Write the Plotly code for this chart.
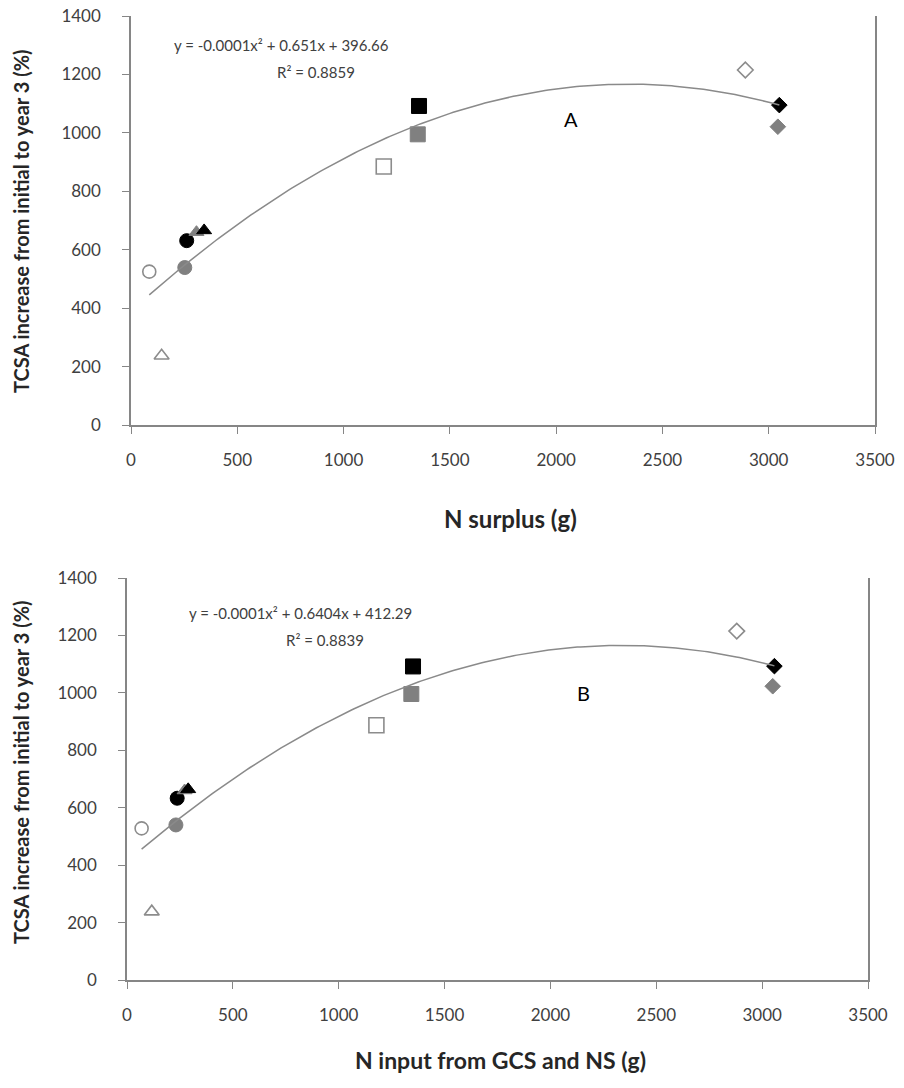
import numpy as np
import plotly.graph_objects as go

# ---------------- data ----------------
# Panel A: N surplus (g) vs TCSA increase (%)
a_open_circle_x = [86];   a_open_circle_y = [525]
a_grey_circle_x = [253];  a_grey_circle_y = [539]
a_black_circle_x = [262]; a_black_circle_y = [631]
a_open_tri_x = [144];     a_open_tri_y = [237]
a_grey_tri_x = [308];     a_grey_tri_y = [660]
a_black_tri_x = [344];    a_black_tri_y = [666]
a_open_sq_x = [1189];     a_open_sq_y = [885]
a_grey_sq_x = [1349];     a_grey_sq_y = [995]
a_black_sq_x = [1355];    a_black_sq_y = [1092]
a_open_dia_x = [2890];    a_open_dia_y = [1215]
a_grey_dia_x = [3043];    a_grey_dia_y = [1021]
a_black_dia_x = [3050];   a_black_dia_y = [1095]

# Panel B: N input from GCS and NS (g) vs TCSA increase (%)
b_open_circle_x = [69];   b_open_circle_y = [528]
b_grey_circle_x = [231];  b_grey_circle_y = [540]
b_black_circle_x = [237]; b_black_circle_y = [633]
b_open_tri_x = [117];     b_open_tri_y = [238]
b_grey_tri_x = [272];     b_grey_tri_y = [660]
b_black_tri_x = [289];    b_black_tri_y = [664]
b_open_sq_x = [1178];     b_open_sq_y = [887]
b_grey_sq_x = [1343];     b_grey_sq_y = [996]
b_black_sq_x = [1351];    b_black_sq_y = [1092]
b_open_dia_x = [2880];    b_open_dia_y = [1215]
b_grey_dia_x = [3050];    b_grey_dia_y = [1023]
b_black_dia_x = [3058];   b_black_dia_y = [1093]

eq_a = "y = -0.0001x² + 0.651x + 396.66"
r2_a = "R² = 0.8859"
eq_b = "y = -0.0001x² + 0.6404x + 412.29"
r2_b = "R² = 0.8839"
title_a = "N surplus (g)"
title_b = "N input from GCS and NS (g)"
y_title = "TCSA increase from initial to year 3 (%)"

x_ticks = [0, 500, 1000, 1500, 2000, 2500, 3000, 3500]
y_ticks = [0, 200, 400, 600, 800, 1000, 1200, 1400]

FONT = "Lato, 'Open Sans', sans-serif"
BLACK = "#000000"
GREY = "#808080"
OPEN_LINE = "#8c8c8c"
AXIS = "#868686"

# figure / margin geometry (pixels)
FW, FH = 904, 1088
L, R, T, B = 127, 29, 16, 108
W, H = FW - L - R, FH - T - B

def px2paper(px, py):
    return (px - L) / W, 1 - (py - T) / H

fig = go.Figure()

def add_panel(fig, xa, ya, series):
    allx, ally = [], []
    for (xs, ys, symbol, fill, size) in series:
        allx += xs; ally += ys
        line = dict(color=OPEN_LINE, width=1.6) if fill == "white" else dict(color=fill, width=1)
        fig.add_trace(go.Scatter(
            x=xs, y=ys, mode="markers", xaxis=xa, yaxis=ya, showlegend=False,
            marker=dict(symbol=symbol, color=fill, size=size, line=line)))
    # quadratic trendline (least squares fit of the points)
    c = np.polyfit(allx, ally, 2)
    xs = np.linspace(min(allx), max(allx), 200)
    fig.add_trace(go.Scatter(x=xs, y=np.polyval(c, xs), mode="lines",
                             xaxis=xa, yaxis=ya, showlegend=False,
                             line=dict(color="#8a8a8a", width=1.5)))

def make_series(p):
    g = globals()
    spec = [("open_sq", "square", "white", 15), ("grey_sq", "square", GREY, 15),
            ("black_sq", "square", BLACK, 15),
            ("open_dia", "diamond", "white", 12), ("grey_dia", "diamond", GREY, 12),
            ("black_dia", "diamond", BLACK, 12),
            ("open_circle", "circle", "white", 13), ("grey_circle", "circle", GREY, 14),
            ("black_circle", "circle", BLACK, 14),
            ("open_tri", "triangle-up", "white", 13), ("grey_tri", "triangle-up", GREY, 13),
            ("black_tri", "triangle-up", BLACK, 13)]
    return [(g[f"{p}_{n}_x"], g[f"{p}_{n}_y"], s, c, z) for n, s, c, z in spec]

add_panel(fig, "x", "y", make_series("a"))
add_panel(fig, "x2", "y2", make_series("b"))

def xaxis(domain, anchor):
    return dict(domain=domain, anchor=anchor, range=[0, 3500], tickvals=x_ticks,
                showgrid=False, zeroline=False, showline=True, linecolor=AXIS, linewidth=1.5,
                ticks="outside", ticklen=7, tickcolor=AXIS, tickwidth=1.3,
                ticklabelstandoff=12,
                tickfont=dict(family=FONT, size=17, color="#404040"))

def yaxis(domain, anchor):
    return dict(domain=domain, anchor=anchor, range=[0, 1400], tickvals=y_ticks,
                showgrid=False, zeroline=False, showline=True, linecolor=AXIS, linewidth=1.5,
                mirror=True, ticks="outside", ticklen=7, tickcolor=AXIS, tickwidth=1.3,
                ticklabelstandoff=18,
                tickfont=dict(family=FONT, size=17, color="#404040"))

def ann(text, px, py, size, bold=False, angle=0, color="#404040", anchor="center"):
    x, y = px2paper(px, py)
    f = dict(family=FONT, size=size, color=color)
    if bold:
        f["weight"] = "bold"
    return dict(text=text, x=x, y=y, xref="paper", yref="paper", showarrow=False,
                xanchor=anchor, yanchor="middle", textangle=angle, font=f)

annotations = [
    ann(eq_a, 172, 45, 15, anchor="left"),
    ann(r2_a, 357, 72, 15, anchor="right"),
    ann(eq_b, 300, 613, 15),
    ann(r2_b, 366, 640, 15, anchor="right"),
    ann(title_a, 510, 518, 24, bold=True, color="#262626"),
    ann(title_b, 500, 1060, 23, bold=True, color="#262626"),
    ann(y_title, 21, 221, 20, bold=True, angle=-90, color="#262626"),
    ann(y_title, 21, 772, 20, bold=True, angle=-90, color="#262626"),
    dict(text="A", x=2072, y=1046, xref="x", yref="y", showarrow=False,
         font=dict(family=FONT, size=20, color="#000000")),
    dict(text="B", x=2155, y=1000, xref="x2", yref="y2", showarrow=False,
         font=dict(family=FONT, size=20, color="#000000")),
]

top_x0, _ = px2paper(131, 0)
bot_x1, _ = px2paper(868, 0)
_, top_y0 = px2paper(0, 425)
_, bot_y1 = px2paper(0, 578)

fig.update_layout(
    width=FW, height=FH, paper_bgcolor="white", plot_bgcolor="white",
    margin=dict(l=L, r=R, t=T, b=B, autoexpand=False),
    xaxis=xaxis([top_x0, 1.0], "y"),
    yaxis=yaxis([top_y0, 1.0], "x"),
    xaxis2=xaxis([0.0, bot_x1], "y2"),
    yaxis2=yaxis([0.0, bot_y1], "x2"),
    annotations=annotations,
)

# remove the default page margin so the 904x1088 figure fills the window exactly
fig.write_html("out.html",
               config={"displayModeBar": False},
               post_script="document.body.style.margin='0';document.body.style.overflow='hidden';")
